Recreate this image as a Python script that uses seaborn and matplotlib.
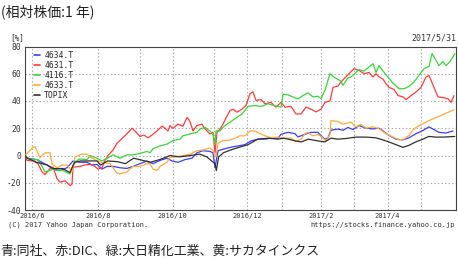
import numpy as np
import pandas as pd
import matplotlib
matplotlib.use("Agg")
import matplotlib.pyplot as plt
import seaborn as sns

# ---------------- data (days since 2016-05-31, relative price %) ----------------
start_date = "2016-05-31"

topix_day = [0, 2, 10, 19, 24, 32, 38, 42, 47, 55, 61, 64, 70, 78, 85, 92, 97, 106, 114, 123, 131, 140,
             148, 154, 158, 161, 162, 164, 168, 174, 180, 189, 197, 206, 214, 219, 223, 229, 234, 240,
             248, 254, 259, 265, 272, 280, 289, 297, 303, 308, 314, 320, 325, 331, 337, 342, 348, 354, 364]
topix_val = [0, -2, -5, -7, -9.6, -9.6, -12.5, -5, -4, -4, -4, -7, -4, -4.5, -6, -2, -3, -5, -3, 0, -1, 0,
             1, -1, -4, -6, -11, -1, 2, 4, 5.7, 8, 12, 12.7, 12, 12.7, 12, 10.7, 10, 12,
             10.7, 10, 12.7, 12, 12.5, 13.5, 13.5, 13, 11.5, 10, 8, 6, 7.4, 10, 12, 14, 13.5, 13.5, 14]

blue_px = [25, 27, 37, 47, 53, 60, 67, 73, 80, 87, 92, 97, 102, 107, 113, 120, 127, 133, 140, 147, 153, 160,
           167, 172, 178, 185, 192, 197, 203, 210, 213, 215, 218, 227, 233, 238, 245, 251, 258, 265, 271,
           278, 281, 288, 295, 298, 305, 311, 318, 321, 325, 328, 331, 338, 343, 348, 353, 359, 366, 373,
           379, 383, 389, 396, 403, 409, 416, 423, 429, 434, 439, 446, 453]
blue_val = [0, -2, -3, -7, -10, -11, -9, -4, -5, -5, -7, -6.5, -10, -8, -8, -9, -9.5, -8, -6, -4, -6, -3.6,
            -2, -4, -5, -3, -2, 2, 3.5, 3, 2, -9, 3.5, 5.4, 6.4, 7, 8, 10.7, 12, 12, 12.7,
            12.7, 15.6, 17, 16, 13.6, 15.6, 17, 17, 14.4, 12, 13, 18.6, 19.4, 18.5, 20.6, 19, 22, 20, 19.5,
            20, 18, 14.7, 12, 11.5, 13, 16, 18.4, 21, 19, 17, 16.5, 18]

orange_px = [25, 29, 33, 35, 40, 45, 50, 52, 57, 62, 67, 72, 75, 82, 87, 90, 97, 102, 110, 117, 120, 127,
             133, 140, 147, 150, 153, 157, 160, 167, 170, 177, 183, 190, 197, 203, 210, 213, 216, 218, 223,
             230, 237, 240, 245, 250, 255, 260, 265, 271, 278, 285, 291, 296, 301, 305, 308, 313, 318, 323,
             326, 330, 331, 338, 343, 346, 351, 356, 361, 366, 373, 379, 386, 393, 399, 404, 409, 413, 419,
             426, 433, 439, 446, 454]
orange_val = [0, 3, 6, 6.6, -1.5, 2, 2, -6, -9, -7, -7, -12, -1, 1, 1, -1, -4, -5, -6, -13, -13.5, -12,
              -8, -8, -6, -6, -10, -11, -8, -5, -1.5, -1, 0, 1, 3.5, 4, 5.5, 3.5, -1, 9, 11,
              11.3, 13.3, 14.5, 14.4, 18, 18, 16, 14.5, 13, 13.5, 12.7, 12.7, 10, 12, 16, 17, 14.4, 15.5, 12.7,
              10.7, 15.6, 25.6, 25, 23, 23.5, 24.5, 21, 23, 20, 21, 19.6, 16, 13.5, 11.5, 12, 14.7, 19, 22,
              24.5, 27, 28.7, 31, 33.6]

green_px = [25, 28, 33, 38, 42, 45, 50, 53, 57, 63, 70, 73, 77, 80, 87, 90, 97, 102, 107, 113, 120, 127,
            133, 140, 147, 150, 153, 160, 167, 173, 180, 183, 190, 197, 200, 205, 210, 213, 215, 216, 220,
            223, 227, 230, 233, 237, 242, 248, 255, 261, 268, 275, 281, 283, 288, 293, 298, 303, 308, 313,
            318, 321, 325, 330, 335, 340, 343, 348, 351, 356, 359, 364, 369, 373, 376, 379, 384, 388, 393,
            399, 404, 409, 414, 419, 424, 429, 432, 435, 439, 443, 446, 450, 455]
green_val = [0, -2, -3, -3, -8, -12, -11, -10, -11, -11, -13.5, -7, -3.6, -2.5, -3, 0, -2, -4, -2, 0.5, -2, 0.5,
             0.5, 1.5, 3, 2, 5, 7, 8.4, 11, 12, 14.5, 15.8, 17, 19.5, 20.7, 18, 15.8, 8, 18, 18,
             20.7, 23, 24.4, 26, 28, 30.5, 36, 36.7, 36, 38, 36.5, 35.5, 45, 44.5, 43, 41.5, 44, 46, 43,
             43.5, 41.7, 48, 60, 57, 55, 51.6, 57, 57.6, 61, 63, 62, 65, 67.4, 61, 66, 61, 57.6, 53,
             49, 49, 50.7, 54, 58.8, 63.7, 65.4, 74.8, 71, 66, 69, 66, 69, 74.8]

red_px = [25, 27, 33, 38, 42, 45, 50, 53, 57, 60, 65, 70, 72, 73, 80, 85, 90, 95, 98, 102, 105, 108, 113,
          117, 120, 127, 132, 135, 140, 144, 148, 152, 157, 162, 165, 168, 170, 173, 178, 183, 187, 190,
          193, 197, 202, 205, 210, 213, 215, 217, 220, 223, 227, 230, 233, 237, 242, 246, 250, 253, 256,
          261, 265, 271, 276, 281, 285, 291, 296, 301, 306, 311, 316, 321, 325, 330, 333, 338, 341, 345,
          349, 354, 359, 364, 369, 373, 376, 379, 383, 386, 389, 394, 398, 403, 406, 411, 416, 421, 426,
          429, 434, 438, 443, 448, 451, 454]
red_val = [0, -3.6, -4, -6, -12, -14, -9.6, -8.5, -17, -19.6, -18.5, -22, -21, -8.6, -8, -7, -6.4, -8, -10, -9, -3.6, 0, 4,
           9, 11, 16, 20, 18, 14, 15, 13, 15, 18, 21.6, 20, 18, 22, 20, 23, 21.5, 28, 25,
           18, 22, 23, 19.5, 15.8, 17, 2, 17, 19.5, 23, 29, 33, 34, 31.8, 34, 36.7, 45.4, 46.7, 40.4,
           41, 38, 39, 35.5, 39, 35.5, 36, 30.5, 30.5, 35.5, 34, 32, 34, 39, 40, 50, 51, 54, 57,
           60, 63.7, 62.5, 60, 61, 57.6, 60, 57.6, 56, 52.7, 50, 48.5, 44, 43, 41, 44, 46.6, 50, 57.6,
           58.8, 50, 43, 42.5, 41.7, 39, 44]

series_names = ["4634.T", "4631.T", "4116.T", "4633.T", "TOPIX"]
series_colors = ["#3c3cff", "#ff3c3c", "#3cd23c", "#ffaa3c", "#303030"]

y_ticks = [80, 60, 40, 20, 0, -20, -40]
grid_dates = ["2016-06-06", "2016-08-01", "2016-09-05", "2016-10-03", "2016-11-07", "2016-12-05",
              "2017-01-04", "2017-02-06", "2017-03-06", "2017-04-03", "2017-05-01"]
grid_labels = ["2016/6", "2016/8", "", "2016/10", "", "2016/12", "", "2017/2", "", "2017/4", ""]

title_text = "(相対株価:1 年)"
date_text = "2017/5/31"
unit_text = "[%]"
copyright_text = "(C) 2017 Yahoo Japan Corporation."
url_text = "https://stocks.finance.yahoo.co.jp"
caption_text = "青:同社、赤:DIC、緑:大日精化工業、黄:サカタインクス"

# ---------------- build table ----------------
px_per_day = 431 / 365.0


def px_to_day(px):
    return [(p - 25) / px_per_day for p in px]


frames = []
frames.append(pd.DataFrame({"day": px_to_day(blue_px), "val": blue_val, "series": "4634.T"}))
frames.append(pd.DataFrame({"day": px_to_day(red_px), "val": red_val, "series": "4631.T"}))
frames.append(pd.DataFrame({"day": px_to_day(green_px), "val": green_val, "series": "4116.T"}))
frames.append(pd.DataFrame({"day": px_to_day(orange_px), "val": orange_val, "series": "4633.T"}))
frames.append(pd.DataFrame({"day": topix_day, "val": topix_val, "series": "TOPIX"}))
df = pd.concat(frames, ignore_index=True)

grid_days = [(pd.Timestamp(d) - pd.Timestamp(start_date)).days for d in grid_dates]

# ---------------- plot ----------------
sns.set_theme(style="white")
plt.rcParams["font.family"] = ["Noto Sans CJK JP", "DejaVu Sans"]

fig = plt.figure(figsize=(4.58, 2.59), dpi=100)
ax = fig.add_axes([25 / 458, 1 - 210 / 259, 431 / 458, (210 - 46.5) / 259])

palette = dict(zip(series_names, series_colors))
sns.lineplot(data=df, x="day", y="val", hue="series", hue_order=series_names, palette=palette,
             linewidth=0.9, ax=ax, sort=False, estimator=None, legend=True, zorder=3)

ax.set_xlim(0, 365)
ax.set_ylim(-40, 80)
ax.set_yticks(y_ticks)
ax.set_yticklabels([str(v) for v in y_ticks], family="DejaVu Sans Mono", fontsize=5.8, color="#333333")
ax.set_xticks(grid_days)
ax.set_xticklabels(grid_labels, family="DejaVu Sans Mono", fontsize=5.0, color="#333333")
ax.tick_params(axis="both", length=2, width=0.6, color="#555555", pad=0.5)
ax.set_axisbelow(True)
ax.grid(True, which="major", linestyle=(0, (1.2, 2.0)), color="#a6a6a6", linewidth=0.8, zorder=0)
ax.set_xlabel("")
ax.set_ylabel("")
for s in ax.spines.values():
    s.set_color("#444444")
    s.set_linewidth(0.8)

leg = ax.legend(loc="upper left", bbox_to_anchor=(0.01, 1.0), frameon=False,
                prop={"family": "DejaVu Sans Mono", "size": 5.8}, handlelength=0.8,
                handletextpad=0.5, labelspacing=0.12, borderaxespad=0.15)
for line in leg.get_lines():
    line.set_linewidth(1.2)

fig.text(1 / 458, 1 - 12 / 259, title_text, fontsize=10, va="center", ha="left", color="#222222")
fig.text(456 / 458, 1 - 38 / 259, date_text, fontsize=6, va="center", ha="right",
         family="DejaVu Sans Mono", color="#333333")
fig.text(10 / 458, 1 - 38 / 259, unit_text, fontsize=5.5, va="center", ha="left",
         family="DejaVu Sans Mono", color="#333333")
fig.text(8 / 458, 1 - 225 / 259, copyright_text, fontsize=5.0, va="center", ha="left",
         family="DejaVu Sans Mono", color="#333333")
fig.text(455 / 458, 1 - 225 / 259, url_text, fontsize=5.0, va="center", ha="right",
         family="DejaVu Sans Mono", color="#333333")
fig.text(0 / 458, 1 - 251 / 259, caption_text, fontsize=9.3, va="center", ha="left", color="#222222")

fig.savefig("out.png", dpi=100)
